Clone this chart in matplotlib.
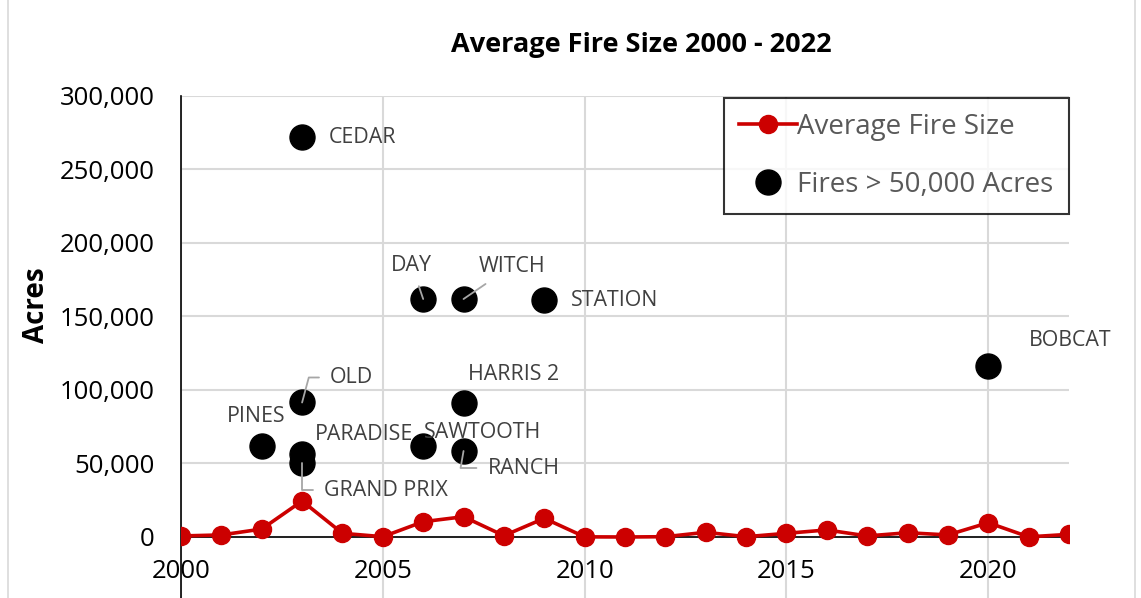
import matplotlib
matplotlib.use('Agg')
import matplotlib.pyplot as plt
from matplotlib.lines import Line2D

years = list(range(2000, 2023))
avg_size = [700, 1400, 5400, 24500, 2500, 200, 10400, 13800, 900, 12700,
            100, 0, 200, 3200, 200, 2500, 4800, 700, 2900, 1400, 9700, 100, 1800]

fire_names = ['CEDAR', 'OLD', 'PARADISE', 'GRAND PRIX', 'PINES', 'DAY',
              'SAWTOOTH', 'WITCH', 'HARRIS 2', 'RANCH', 'STATION', 'BOBCAT']
fire_years = [2003, 2003, 2003, 2003, 2002, 2006, 2006, 2007, 2007, 2007, 2009, 2020]
fire_acres = [272000, 91500, 56700, 50300, 61900, 161900, 61900, 161900,
              90900, 58500, 161200, 116300]

# label offsets in pixels (dx, dy) and leader line style
label_pos = {
    'CEDAR': (27, 0, None),
    'OLD': (28, 25, 'angle,angleA=0,angleB=75,rad=0'),
    'PARADISE': (13, 19, None),
    'GRAND PRIX': (22, -27, 'angle,angleA=0,angleB=90,rad=0'),
    'PINES': (-35, 30, None),
    'DAY': (-32, 34, 'arc3'),
    'SAWTOOTH': (1, 14, None),
    'WITCH': (15, 33, 'arc3'),
    'HARRIS 2': (4, 29, None),
    'RANCH': (24, -17, 'angle,angleA=0,angleB=80,rad=0'),
    'STATION': (27, 0, None),
    'BOBCAT': (41, 26, None),
}

plt.rcParams['font.family'] = 'Open Sans'

fig = plt.figure(figsize=(11.41, 5.98), dpi=100)
ax = fig.add_axes([181 / 1141, 0, 888 / 1141, 502 / 598])

ax.plot(years, avg_size, color='#cc0000', lw=2.6, marker='o', markersize=13,
        label='Average Fire Size', zorder=3)
ax.plot(fire_years, fire_acres, 'o', color='black', markersize=18, ls='none',
        label='Fires > 50,000 Acres', zorder=3)

for name, x, y in zip(fire_names, fire_years, fire_acres):
    dx, dy, conn = label_pos[name]
    arrow = None
    if conn:
        arrow = dict(arrowstyle='-', color='#a6a6a6', lw=1.3,
                     connectionstyle=conn, shrinkA=6, shrinkB=0)
    ax.annotate(name, (x, y), xytext=(dx, dy), textcoords='offset pixels',
                ha='left', va='center', fontsize=15.4, color='#404040',
                arrowprops=arrow, annotation_clip=False, zorder=4)

ax.set_xlim(2000, 2022)
ax.set_ylim(-41500, 300000)
ax.set_xticks([2000, 2005, 2010, 2015, 2020])
ax.set_yticks(range(0, 300001, 50000))
ax.set_yticklabels([f'{v:,}' for v in range(0, 300001, 50000)])
ax.tick_params(axis='y', length=0, pad=19, labelsize=18.5, labelcolor='black')
ax.tick_params(axis='x', length=0, pad=-28, labelsize=18.5, labelcolor='black')

ax.grid(True, color='#d9d9d9', lw=1.5)
ax.set_axisbelow(True)
for s in ['top', 'right', 'bottom']:
    ax.spines[s].set_visible(False)
ax.spines['left'].set_color('black')
ax.spines['left'].set_linewidth(1.2)
ax.axhline(0, color='black', lw=1.2, zorder=2)

leg = ax.legend(loc='upper right', bbox_to_anchor=(1.0, 0.997), fontsize=20,
                frameon=True, fancybox=False, edgecolor='black',
                handlelength=2.1, handletextpad=0.0, labelspacing=1.07,
                borderpad=0.55, borderaxespad=0)
leg.get_frame().set_linewidth(1.5)
for t in leg.get_texts():
    t.set_color('#595959')

fig.text(641 / 1141, 1 - 45 / 598, 'Average Fire Size 2000 - 2022', ha='center',
         va='center', fontsize=19.5, fontweight='bold')
fig.text(37 / 1141, 1 - 305 / 598, 'Acres', ha='center', va='center',
         rotation=90, fontsize=20, fontweight='bold')

fig.add_artist(Line2D([8 / 1141, 8 / 1141], [0, 1], color='#d9d9d9', lw=1.2))
fig.add_artist(Line2D([1135 / 1141, 1135 / 1141], [0, 1], color='#d9d9d9', lw=1.2))

fig.savefig('out.png', dpi=100)
